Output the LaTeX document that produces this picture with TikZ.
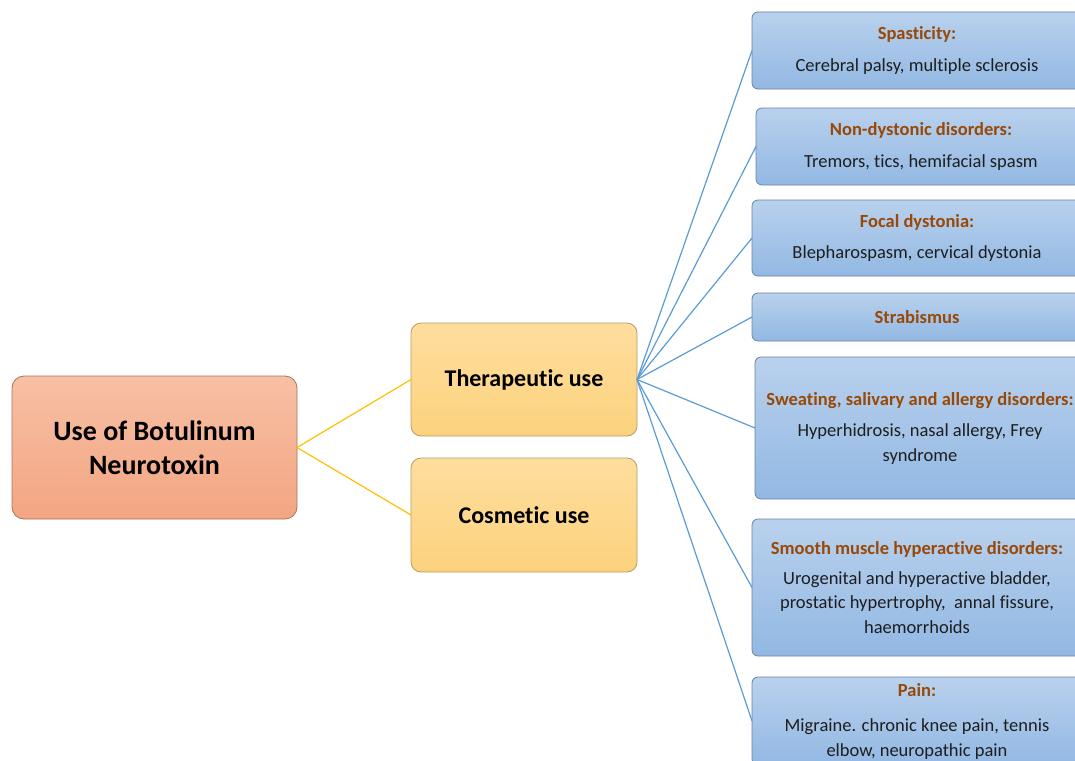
\documentclass[tikz,border=0pt]{standalone}
\usepackage{fontspec}
\setmainfont{Carlito}[Ligatures=NoCommon]
\definecolor{bluetop}{RGB}{185,209,237}
\definecolor{bluebot}{RGB}{146,184,227}
\definecolor{blueborder}{RGB}{105,130,165}
\definecolor{orangetop}{RGB}{254,222,158}
\definecolor{orangebot}{RGB}{252,210,125}
\definecolor{orangeborder}{RGB}{185,155,100}
\definecolor{salmontop}{RGB}{247,192,165}
\definecolor{salmonbot}{RGB}{243,165,130}
\definecolor{salmonborder}{RGB}{170,115,90}
\definecolor{linkblue}{RGB}{91,155,213}
\definecolor{linkyellow}{RGB}{255,192,0}
\definecolor{titlebrown}{RGB}{152,72,7}
\definecolor{bodytext}{RGB}{30,30,30}
\newcommand{\boxtitle}[1]{{\color{titlebrown}\bfseries #1}}
\tikzset{
  bluebox/.style={draw=blueborder, top color=bluetop, bottom color=bluebot,
    rounded corners=6pt, line width=0.8pt, minimum width=330pt,
    anchor=north west, align=center, inner sep=0pt, outer sep=0pt,
    font=\fontsize{18.5}{24.5}\selectfont, text=bodytext},
  midbox/.style={draw=orangeborder, top color=orangetop, bottom color=orangebot,
    rounded corners=10pt, line width=0.8pt, minimum width=226pt,
    anchor=north west, align=center, inner sep=0pt, outer sep=0pt,
    font=\fontsize{24}{30}\selectfont\bfseries, text=black},
  rootbox/.style={draw=salmonborder, top color=salmontop, bottom color=salmonbot,
    rounded corners=12pt, line width=0.8pt, minimum width=285pt, minimum height=143pt,
    anchor=north west, align=center, inner sep=0pt, outer sep=0pt,
    font=\fontsize{28}{34}\selectfont\bfseries, text=black},
  bluelink/.style={draw=linkblue, line width=1.2pt},
  yellowlink/.style={draw=linkyellow, line width=1.2pt},
}
\begin{document}
\begin{tikzpicture}[x=1pt,y=-1pt]
\useasboundingbox (0,0) rectangle (1075,760);
\clip (0,0) rectangle (1075,760);

\node[rootbox] (root) at (12,376) {Use of Botulinum\\Neurotoxin};
\node[midbox, minimum height=113pt] (ther) at (411,323) {Therapeutic use};
\node[midbox, minimum height=114pt] (cos) at (411,458) {Cosmetic use};

\node[bluebox, minimum height=77pt] (b1) at (752,12)
  {\boxtitle{Spasticity:}\\[7pt]Cerebral palsy, multiple sclerosis};
\node[bluebox, minimum height=77pt] (b2) at (756,108)
  {\boxtitle{Non-dystonic disorders:}\\[7pt]Tremors, tics, hemifacial spasm};
\node[bluebox, minimum height=76pt] (b3) at (752,200)
  {\boxtitle{Focal dystonia:}\\[7pt]Blepharospasm, cervical dystonia};
\node[bluebox, minimum height=48pt] (b4) at (752,293)
  {\boxtitle{Strabismus}};
\node[bluebox, minimum height=142pt] (b5) at (755,357)
  {\boxtitle{Sweating, salivary and allergy disorders:}\\[7pt]Hyperhidrosis, nasal allergy, Frey\\syndrome};
\node[bluebox, minimum height=137pt] (b6) at (752,519)
  {\boxtitle{Smooth muscle hyperactive disorders:}\\[5pt]Urogenital and hyperactive bladder,\\prostatic hypertrophy,\ \ annal fissure,\\haemorrhoids};
\node[bluebox, minimum height=88pt] (b7) at (752,677)
  {\boxtitle{Pain:}\\[11pt]Migraine. chronic knee pain, tennis\\elbow, neuropathic pain};

\draw[yellowlink] (root.east) -- (ther.west);
\draw[yellowlink] (root.east) -- (cos.west);
\foreach \b in {b1,b2,b3,b4,b5,b6,b7}
  \draw[bluelink] (ther.east) -- (\b.west);
\end{tikzpicture}
\end{document}
